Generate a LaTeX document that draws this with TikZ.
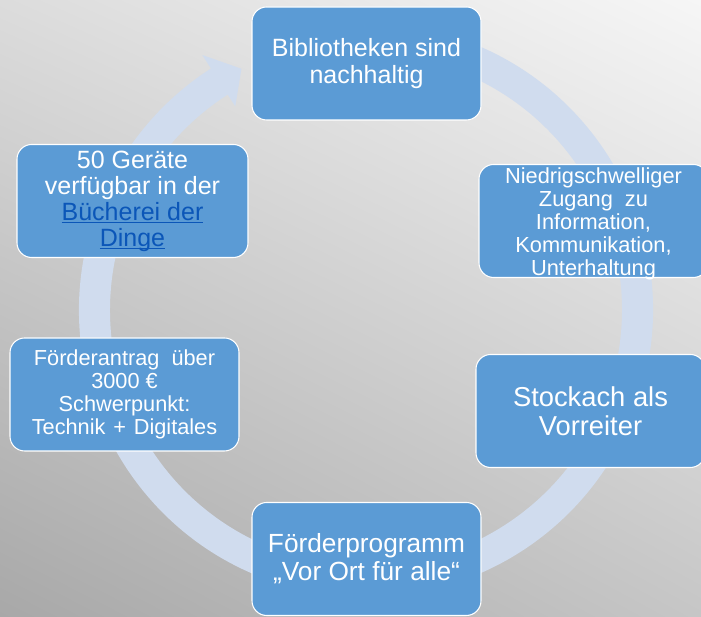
\documentclass[tikz,border=0pt]{standalone}
\usepackage{fontspec}
\setmainfont{Liberation Sans}
\usetikzlibrary{shadings}
\newcommand\myul[1]{\setbox0\hbox{#1}\rlap{\rule[-2.4pt]{\wd0}{0.9pt}}\box0}
\definecolor{boxblue}{HTML}{5B9BD5}
\definecolor{ringblue}{HTML}{D0DCEE}
\definecolor{linkblue}{HTML}{0B56B8}
\definecolor{bgUL}{HTML}{DCDCDC}
\definecolor{bgUR}{HTML}{F6F6F6}
\definecolor{bgLL}{HTML}{A8A8A8}
\definecolor{bgLR}{HTML}{C6C6C6}
\begin{document}
\begin{tikzpicture}[x=0.75pt,y=0.75pt,
  box/.style={draw=white, line width=0.8pt, fill=boxblue, rounded corners=11pt,
    minimum width=171.75pt, minimum height=84.75pt, inner sep=0pt,
    align=center, text=white},
  boxtext/.style={inner sep=0pt, align=center, text=white}]
\useasboundingbox (0,0) rectangle (701,617);
\begin{scope}
\clip (0,0) rectangle (701,617);
\shade[upper left=bgUL, upper right=bgUR, lower left=bgLL, lower right=bgLR]
  (0,0) rectangle (701,617);
% cycle ring with arrow head
\coordinate (C) at (366,307);
\begin{scope}[shift={(C)}]
\fill[ringblue] (75:287) arc[start angle=75, end angle=-237.3, radius=287]
  -- (-237.3:303) -- (-242.7:271.5) -- (-237.3:242) -- (-237.3:256)
  arc[start angle=-237.3, end angle=75, radius=256] -- cycle;
\end{scope}
% boxes
\node[box, font={\fontsize{18.75}{20.25}\selectfont}] (top) at (366.5,553.5)
  {Bibliotheken sind\\nachhaltig};
\node[box] (zug) at (593.5,396) {};
\node[boxtext, font={\fontsize{16.35}{17.25}\selectfont}] (zugtext) at (593.5,393)
  {Niedrigschwelliger\\Zugang\ \ zu\\Information,\\Kommunikation,\\Unterhaltung};
\node[box, font={\fontsize{20.5}{21.75}\selectfont}] (sto) at (590.5,206)
  {Stockach als\\Vorreiter};
\node[box, font={\fontsize{19.7}{21}\selectfont}] (prog) at (366.5,58)
  {Förderprogramm\\„Vor Ort für alle“};
\node[box, font={\fontsize{16.3}{17.25}\selectfont}] (antrag) at (124.5,222.5)
  {Förderantrag\ \ über\\3000 €\\Schwerpunkt:\\Technik\hspace{0.36em}+\hspace{0.36em}Digitales};
\node[box, minimum width=173.25pt, font={\fontsize{18.75}{19.5}\selectfont}] (geraete) at (132.5,416)
  {50 Geräte\\verfügbar in der\\{\color{linkblue}\myul{Bücherei der}}\\{\color{linkblue}\myul{Dinge}}};
\end{scope}
\end{tikzpicture}
\end{document}
